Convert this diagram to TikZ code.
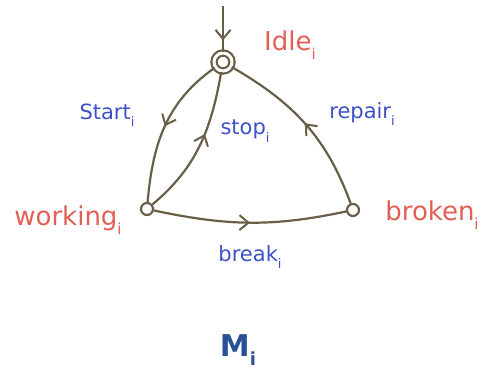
\documentclass[tikz,border=0pt]{standalone}
\usepackage{fontspec}
\setmainfont{DejaVu Sans}
\usetikzlibrary{arrows.meta,decorations.markings}
\definecolor{edgec}{RGB}{105,95,70}
\definecolor{redl}{RGB}{225,95,85}
\definecolor{bluel}{RGB}{60,80,200}
\definecolor{mcol}{RGB}{40,80,150}
\newcommand\rsub[1]{\raisebox{-0.35em}{\fontsize{15}{15}\selectfont #1}}
\newcommand\bsub[1]{\raisebox{-0.35em}{\fontsize{13}{13}\selectfont #1}}
\tikzset{
  state/.style={circle,draw=edgec,line width=2.2pt,minimum size=12pt,inner sep=0pt,fill=white},
  accstate/.style={state,double=white,double distance=3pt,minimum size=18pt},
  edge/.style={draw=edgec,line width=2.2pt,postaction={decorate},decoration={markings,mark=at position #1 with {\arrow[edgec,line width=2pt]{Straight Barb[length=9pt,width=15pt]}}}},
  edge/.default=0.5,
  redlab/.style={text=redl,font=\fontsize{26}{28}\selectfont,inner sep=1pt},
  bluelab/.style={text=bluel,font=\fontsize{21}{24}\selectfont,inner sep=1pt},
}
\begin{document}
\begin{tikzpicture}[x=1pt,y=-1pt]
\useasboundingbox (0,0) rectangle (498,369);
\node[accstate] (idle) at (223,62) {};
\node[state] (work) at (147,209) {};
\node[state] (brok) at (353,210) {};
\coordinate (init) at (223,6);
\draw[edge=0.75] (init) -- (idle);
\draw[edge=0.5] (idle) to[out=215,in=85] (work);
\draw[edge=0.58] (work) to[out=40,in=260] (idle);
\draw[edge=0.5] (brok) to[out=110,in=-30] (idle);
\draw[edge=0.5] (work) to[out=-12,in=192] (brok);
\node[redlab] (lidle) at (290,45) {Idle\rsub{i}};
\node[redlab] (lwork) at (68,220) {working\rsub{i}};
\node[redlab] (lbrok) at (432,215) {broken\rsub{i}};
\node[bluelab] (lstart) at (107,115) {Start\bsub{i}};
\node[bluelab] (lstop) at (245,131) {stop\bsub{i}};
\node[bluelab] (lrep) at (362,114) {repair\bsub{i}};
\node[bluelab] (lbreak) at (250,257) {break\bsub{i}};
\node[text=mcol,font=\fontsize{30}{32}\selectfont\bfseries] (m) at (238,350) {M\raisebox{-0.3em}{\fontsize{18}{18}\selectfont i}};
\end{tikzpicture}
\end{document}
